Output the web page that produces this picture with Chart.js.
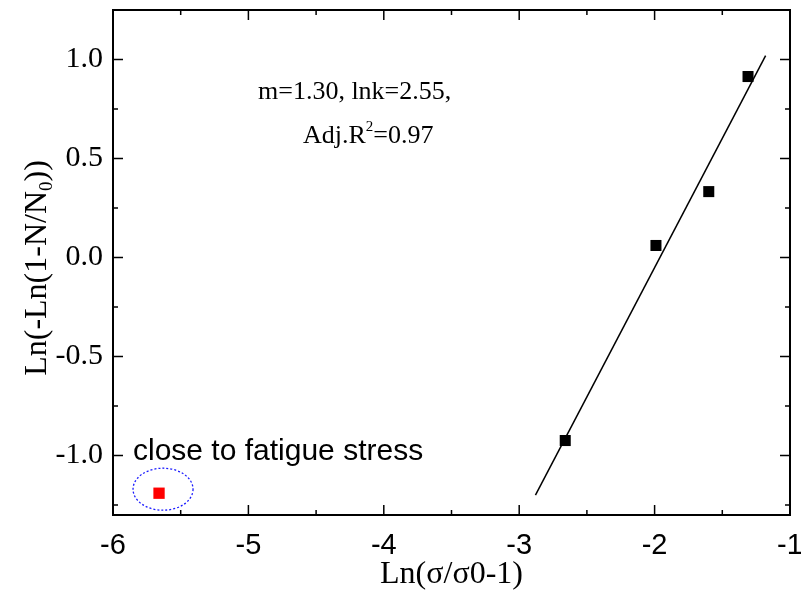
<!DOCTYPE html>
<html>
<head>
<meta charset="utf-8">
<script src="https://cdn.jsdelivr.net/npm/chart.js@4"></script>
<style>
  html, body { margin: 0; padding: 0; background: #fff; }
  #wrap { width: 801px; height: 594px; }
</style>
</head>
<body>
<div id="wrap"><canvas id="grafica" width="801" height="594"></canvas></div>
<script>
// datos
const lnSigma = [-2.66, -1.99, -1.60, -1.31];
const lnN = [-0.924, 0.061, 0.333, 0.914];
const fatigaX = [-5.66];
const fatigaY = [-1.19];
const ajusteX = [-2.88, -1.18];
const ajusteY = [-1.20, 1.02];
const xTicks = [-6, -5, -4, -3, -2, -1];
const yTicks = [-1.0, -0.5, 0.0, 0.5, 1.0];

const serif = "'Liberation Serif', 'Times New Roman', serif";
const sans = "'Liberation Sans', Arial, sans-serif";

const esMayor = (arr, v) => arr.some(t => Math.abs(t - v) < 1e-6);

// marco, ticks hacia dentro y textos
const extras = {
  id: "extras",
  afterDraw(chart) {
    const ctx = chart.ctx;
    const a = chart.chartArea;
    const sx = chart.scales.x, sy = chart.scales.y;
    ctx.save();

    // elipse punteada alrededor del punto rojo
    const cx = sx.getPixelForValue(fatigaX[0]) + 4;
    const cy = sy.getPixelForValue(fatigaY[0]) - 4;
    ctx.strokeStyle = "#1a1aff";
    ctx.lineWidth = 1.3;
    ctx.setLineDash([2, 2]);
    ctx.beginPath();
    ctx.ellipse(cx, cy, 30, 21, 0, 0, Math.PI * 2);
    ctx.stroke();
    ctx.setLineDash([]);

    // marco
    ctx.strokeStyle = "#000";
    ctx.lineWidth = 2;
    ctx.strokeRect(a.left, a.top, a.right - a.left, a.bottom - a.top);

    // ticks
    ctx.lineWidth = 1.5;
    ctx.beginPath();
    sx.ticks.forEach(t => {
      const px = sx.getPixelForValue(t.value);
      const len = esMayor(xTicks, t.value) ? 10 : 5;
      ctx.moveTo(px, a.bottom); ctx.lineTo(px, a.bottom - len);
      ctx.moveTo(px, a.top); ctx.lineTo(px, a.top + len);
    });
    sy.ticks.forEach(t => {
      const py = sy.getPixelForValue(t.value);
      const len = esMayor(yTicks, t.value) ? 10 : 5;
      ctx.moveTo(a.left, py); ctx.lineTo(a.left + len, py);
      ctx.moveTo(a.right, py); ctx.lineTo(a.right - len, py);
    });
    ctx.stroke();

    // texto del ajuste
    ctx.fillStyle = "#000";
    ctx.textBaseline = "alphabetic";
    ctx.textAlign = "left";
    ctx.font = "26px " + serif;
    ctx.fillText("m=1.30, lnk=2.55,", 258, 99);
    let x0 = 303;
    ctx.fillText("Adj.R", x0, 143);
    x0 += ctx.measureText("Adj.R").width;
    ctx.font = "15px " + serif;
    ctx.fillText("2", x0, 131);
    x0 += ctx.measureText("2").width;
    ctx.font = "26px " + serif;
    ctx.fillText("=0.97", x0, 143);

    ctx.font = "30px " + sans;
    ctx.fillText("close to fatigue stress", 133, 460);

    // titulo eje x
    ctx.font = "32px " + serif;
    ctx.textAlign = "center";
    ctx.fillText("Ln(\u03c3/\u03c30-1)", (a.left + a.right) / 2, 583);

    // titulo eje y con subindice
    ctx.translate(46, 268);
    ctx.rotate(-Math.PI / 2);
    ctx.textAlign = "left";
    const p1 = "Ln(-Ln(1-N/N", sub = "0", p2 = "))";
    ctx.font = "32px " + serif;
    const w1 = ctx.measureText(p1).width, w2 = ctx.measureText(p2).width;
    ctx.font = "19px " + serif;
    const ws = ctx.measureText(sub).width;
    let s = -(w1 + ws + w2) / 2;
    ctx.font = "32px " + serif;
    ctx.fillText(p1, s, 0);
    ctx.font = "19px " + serif;
    ctx.fillText(sub, s + w1, 6);
    ctx.font = "32px " + serif;
    ctx.fillText(p2, s + w1 + ws, 0);

    ctx.restore();
  }
};

new Chart(document.getElementById("grafica"), {
  type: "scatter",
  data: {
    datasets: [
      {
        data: ajusteX.map((v, i) => ({ x: v, y: ajusteY[i] })),
        showLine: true,
        borderColor: "#000",
        borderWidth: 1.5,
        pointRadius: 0
      },
      {
        data: lnSigma.map((v, i) => ({ x: v, y: lnN[i] })),
        pointStyle: "rect",
        pointRadius: 7.8,
        backgroundColor: "#000",
        borderColor: "#000",
        borderWidth: 0
      },
      {
        data: fatigaX.map((v, i) => ({ x: v, y: fatigaY[i] })),
        pointStyle: "rect",
        pointRadius: 8,
        backgroundColor: "#ff0000",
        borderColor: "#ff0000",
        borderWidth: 0
      }
    ]
  },
  options: {
    responsive: false,
    animation: false,
    layout: { padding: { top: 10, right: 11, left: 0, bottom: 0 } },
    plugins: { legend: { display: false }, tooltip: { enabled: false } },
    scales: {
      x: {
        type: "linear",
        min: -6,
        max: -1,
        grid: { display: false },
        border: { display: false },
        ticks: {
          stepSize: 0.5,
          autoSkip: false,
          maxRotation: 0,
          includeBounds: false,
          color: "#000",
          font: { family: sans, size: 29 },
          padding: 6,
          callback: v => esMayor(xTicks, v) ? String(Math.round(v)) : ""
        },
        afterFit: s => { s.height = 79; s.paddingLeft = 0; s.paddingRight = 0; }
      },
      y: {
        type: "linear",
        min: -1.3,
        max: 1.25,
        grid: { display: false },
        border: { display: false },
        ticks: {
          stepSize: 0.25,
          autoSkip: false,
          includeBounds: false,
          color: "#000",
          font: { family: serif, size: 30 },
          padding: 2,
          callback: v => esMayor(yTicks, v) ? v.toFixed(1) : ""
        },
        afterFit: s => { s.width = 113; s.paddingTop = 0; s.paddingBottom = 0; }
      }
    }
  },
  plugins: [extras]
});
</script>
</body>
</html>
